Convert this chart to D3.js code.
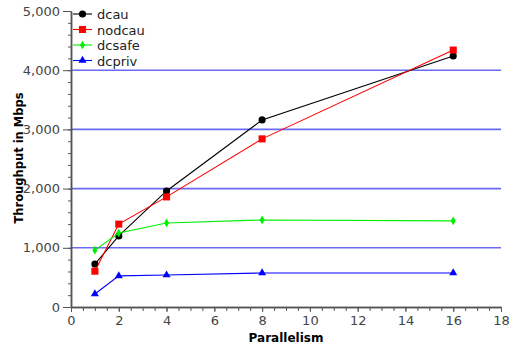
<!DOCTYPE html>
<html>
<head>
<meta charset="utf-8">
<script src="https://cdn.jsdelivr.net/npm/d3@7"></script>
<style>
  body { margin: 0; background: #fff; }
  text { font-family: 'DejaVu Sans', sans-serif; }
</style>
</head>
<body>
<svg id="chart" width="513" height="347"></svg>
<script>
const parallelism = [1, 2, 4, 8, 16];
const dcau = [725, 1200, 1960, 3160, 4240];
const nodcau = [605, 1400, 1860, 2840, 4340];
const dcsafe = [960, 1250, 1420, 1470, 1455];
const dcpriv = [220, 525, 540, 575, 575];
const gridValues = [1000, 2000, 3000, 4000];

const series = [
  {name: 'dcau', values: dcau, color: '#000000', symbol: d3.symbolCircle, size: 40},
  {name: 'nodcau', values: nodcau, color: '#ff0000', symbol: d3.symbolSquare, size: 50},
  {name: 'dcsafe', values: dcsafe, color: '#00ee00', symbol: d3.symbolDiamond, size: 22},
  {name: 'dcpriv', values: dcpriv, color: '#0000ff', symbol: d3.symbolTriangle, size: 28},
];

const svg = d3.select('#chart');
const margin = {left: 71, right: 12, top: 11, bottom: 40};
const width = 513, height = 347;

const x = d3.scaleLinear().domain([0, 18]).range([margin.left, width - margin.right]);
const y = d3.scaleLinear().domain([0, 5000]).range([height - margin.bottom, margin.top]);

// grid lines
svg.append('g')
    .selectAll('line')
    .data(gridValues)
    .join('line')
    .attr('x1', x(0))
    .attr('x2', x(18))
    .attr('y1', (d) => y(d))
    .attr('y2', (d) => y(d))
    .attr('stroke', '#6a6af5')
    .attr('stroke-width', 1.6);

const axisColor = '#555';
const labelColor = '#444';

// x axis: minor ticks every 0.5, labels every 2
const xAxis = svg.append('g').attr('transform', 'translate(0,' + y(0) + ')');
xAxis.call(d3.axisBottom(x).tickValues(d3.range(0, 18.01, 0.5)).tickFormat('').tickSize(4).tickSizeOuter(0));
xAxis.append('g').call(d3.axisBottom(x).tickValues(d3.range(0, 19, 2)).tickSize(5).tickPadding(4).tickSizeOuter(0));
xAxis.selectAll('path').attr('stroke', axisColor).attr('stroke-width', 1.5);
xAxis.selectAll('line').attr('stroke', axisColor);
xAxis.selectAll('text')
    .attr('fill', labelColor)
    .style('font-size', '13px');

// y axis: minor ticks every 200, labels every 1000
const yAxis = svg.append('g').attr('transform', 'translate(' + x(0) + ',0)');
yAxis.call(d3.axisLeft(y).tickValues(d3.range(0, 5001, 200)).tickFormat('').tickSize(3).tickSizeOuter(0));
yAxis.append('g').call(d3.axisLeft(y).tickValues(d3.range(0, 5001, 1000)).tickFormat(d3.format(',')).tickSize(8).tickPadding(3).tickSizeOuter(0));
yAxis.selectAll('path').attr('stroke', axisColor).attr('stroke-width', 1.5);
yAxis.selectAll('line').attr('stroke', axisColor);
yAxis.selectAll('text')
    .attr('fill', labelColor)
    .style('font-size', '13px');

// axis titles
svg.append('text')
    .attr('x', (x(0) + x(18)) / 2)
    .attr('y', 342)
    .attr('text-anchor', 'middle')
    .style('font-size', '12px')
    .style('font-weight', 'bold')
    .text('Parallelism');

svg.append('text')
    .attr('transform', 'translate(23,158) rotate(-90)')
    .attr('text-anchor', 'middle')
    .style('font-size', '11.5px')
    .style('font-weight', 'bold')
    .text('Throughput in Mbps');

// series
const line = d3.line()
    .x((d, i) => x(parallelism[i]))
    .y((d) => y(d));

series.forEach(function(s) {
  svg.append('path')
      .datum(s.values)
      .attr('fill', 'none')
      .attr('stroke', s.color)
      .attr('stroke-width', 1.1)
      .attr('d', line);

  svg.append('g')
      .selectAll('path')
      .data(s.values)
      .join('path')
      .attr('transform', (d, i) => 'translate(' + x(parallelism[i]) + ',' + y(d) + ')')
      .attr('d', d3.symbol().type(s.symbol).size(s.size))
      .attr('fill', s.color);
});

// legend
const legend = svg.append('g').attr('transform', 'translate(' + (x(0) + 2) + ',14)');
series.forEach(function(s, i) {
  const g = legend.append('g').attr('transform', 'translate(0,' + (i * 15.5) + ')');
  g.append('line')
      .attr('x1', 0).attr('x2', 19)
      .attr('stroke', s.color)
      .attr('stroke-width', 1.1);
  g.append('path')
      .attr('transform', 'translate(9.5,0)')
      .attr('d', d3.symbol().type(s.symbol).size(s.size))
      .attr('fill', s.color);
  g.append('text')
      .attr('x', 24)
      .attr('y', 5)
      .style('font-size', '13px')
      .attr('fill', '#222')
      .text(s.name);
});
</script>
</body>
</html>
